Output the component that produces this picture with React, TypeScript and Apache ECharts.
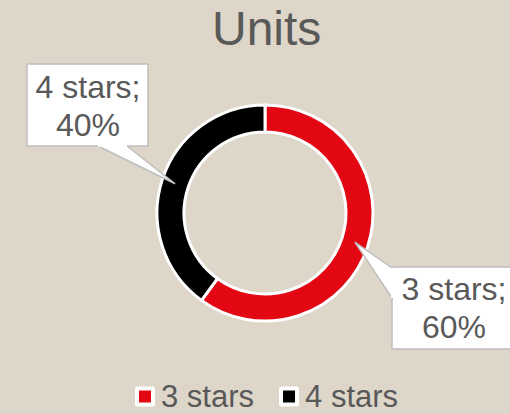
import React, { useEffect, useRef } from "react";
import * as echarts from "echarts";

const categories = ["3 stars", "4 stars"];
const values = [60, 40];
const colors = ["#e30613", "#000000"];
const titleText = "Units";

const FONT = "'Liberation Sans', Arial, sans-serif";
const CX = 265;
const CY = 213;
const R_IN = 81;
const R_OUT = 108;

// label box layouts (position only)
const boxes = [
  { x: 392, y: 267, w: 130, h: 82, tx: 454, ty: 308, base: [[392, 268], [392, 298]] },
  { x: 27, y: 64, w: 121, h: 82, tx: 88, ty: 106, base: [[98, 146], [127, 146]] },
];

export default function App() {
  const ref = useRef<HTMLDivElement>(null);
  useEffect(() => {
    document.body.style.margin = "0";
    const chart = echarts.init(ref.current!, null, { renderer: "svg" });
    const total = values.reduce((a, b) => a + b, 0);
    let cum = 0;
    const graphics: any[] = [];
    values.forEach((v, i) => {
      const mid = ((cum + v / 2) / total) * 2 * Math.PI;
      cum += v;
      const rm = (R_IN + R_OUT) / 2;
      const tip = [CX + rm * Math.sin(mid), CY - rm * Math.cos(mid)];
      const b = boxes[i];
      const pct = Math.round((v / total) * 100);
      graphics.push(
        {
          type: "rect",
          shape: { x: b.x, y: b.y, width: b.w, height: b.h },
          style: { fill: "#ffffff", stroke: "#bfbfbf", lineWidth: 1.5 },
          z: 10,
        },
        {
          type: "polygon",
          shape: { points: [b.base[0], tip, b.base[1]] },
          style: { fill: "#ffffff", stroke: "#bfbfbf", lineWidth: 1.5 },
          z: 11,
        },
        {
          type: "line",
          shape: {
            x1: b.base[0][0],
            y1: b.base[0][1],
            x2: b.base[1][0],
            y2: b.base[1][1],
          },
          style: { stroke: "#ffffff", lineWidth: 2 },
          z: 12,
        },
        {
          type: "text",
          x: b.tx,
          y: b.ty,
          z: 13,
          style: {
            text: `${categories[i]};\n${pct}%`,
            fill: "#595959",
            font: `32px ${FONT}`,
            fontSize: 32,
            fontFamily: FONT,
            lineHeight: 38,
            align: "center",
            verticalAlign: "middle",
          },
        }
      );
    });

    chart.setOption({
      animation: false,
      backgroundColor: "#ddd6c9",
      title: {
        text: titleText,
        left: 212,
        top: 0,
        padding: 0,
        textStyle: { fontSize: 48, lineHeight: 56, fontWeight: "normal", color: "#595959", fontFamily: FONT },
      },
      legend: {
        data: categories,
        left: 135,
        top: 381,
        padding: 0,
        itemWidth: 16,
        itemHeight: 16,
        itemGap: 25,
        icon: "rect",
        itemStyle: { borderColor: "#ffffff", borderWidth: 4 },
        textStyle: { fontSize: 31, lineHeight: 30, color: "#595959", fontFamily: FONT, padding: [0, 0, 0, 3] },
      },
      graphic: graphics,
      series: [
        {
          type: "pie",
          center: [CX, CY],
          radius: [R_IN, R_OUT],
          startAngle: 90,
          clockwise: true,
          label: { show: false },
          labelLine: { show: false },
          emphasis: { disabled: true },
          itemStyle: { borderColor: "#ffffff", borderWidth: 3 },
          data: categories.map((c, i) => ({
            name: c,
            value: values[i],
            itemStyle: { color: colors[i] },
          })),
        },
      ],
    });
    return () => chart.dispose();
  }, []);
  return <div ref={ref} style={{ width: 510, height: 414 }} />;
}
